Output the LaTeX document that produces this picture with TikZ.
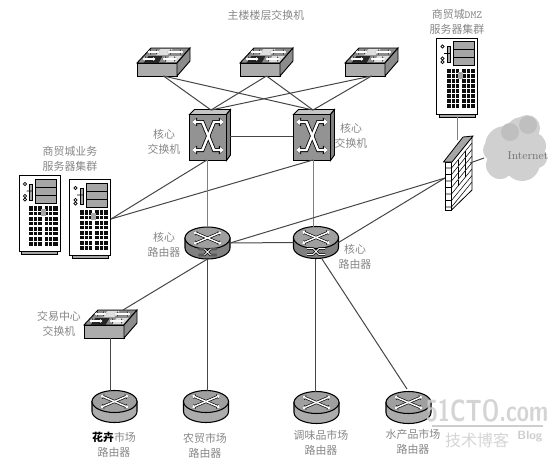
\documentclass[tikz,border=0pt]{standalone}
\usepackage{fontspec}
\newfontfamily\cjk{Noto Sans CJK SC}
\usetikzlibrary{arrows.meta}
\definecolor{linkgray}{RGB}{70,70,70}
\definecolor{labelgray}{RGB}{135,135,135}
\definecolor{markgray}{RGB}{205,205,205}
\definecolor{cloudgray}{RGB}{208,208,208}
\tikzset{link/.style={draw=linkgray,line width=.75pt},
 lbl/.style={font=\cjk\fontsize{8.2}{11}\selectfont,text=labelgray,align=center,inner sep=0pt},
 devbox/.style={inner sep=0pt,outer sep=0pt},
 swbox/.style={devbox,minimum width=39.75pt,minimum height=21pt},
 corebox/.style={devbox,minimum width=30.75pt,minimum height=38.25pt},
 rtbox/.style={devbox,minimum width=33.75pt,minimum height=24pt},
 srvbox/.style={devbox,minimum width=31pt,minimum height=59pt},
 arrowout/.style={black,line width=3pt,{Triangle[length=3.8pt,width=6.4pt]}-{Triangle[length=3.8pt,width=6.4pt]}},
 arrowin/.style={white,line width=1.8pt,{Triangle[length=3pt,width=4.4pt]}-{Triangle[length=3pt,width=4.4pt]}},
 thinout/.style={black,line width=2.1pt,{Triangle[length=2.4pt,width=3.8pt]}-{Triangle[length=2.4pt,width=3.8pt]}},
 thinin/.style={white,line width=1.1pt,{Triangle[length=1.9pt,width=2.8pt]}-{Triangle[length=1.9pt,width=2.8pt]}},
 pics/accesssw/.style={code={
  \fill[gray!90,draw=black,line width=.7pt] (-26.5,1)--(-12.5,-14)--(26.5,-14)--(13.5,1)--cycle;
  \fill[gray!30!black] (-20,1)--(-15,-6)--(-1,-6)--(-5,1)--cycle;
  \fill[gray!25] (-8,-7)--(-3,-13)--(9,-13)--(4,-7)--cycle;
  \fill[gray!25] (2,0)--(6,-6)--(18,-6)--(13,0)--cycle;
  \draw[thinout] (-16,-10)--(-4,-10); \draw[thinin] (-16,-10)--(-4,-10);
  \draw[thinout] (4,-10)--(20,-10); \draw[thinin] (4,-10)--(20,-10);
  \draw[thinout] (-21,-3)--(-8,-3); \draw[thinin] (-21,-3)--(-8,-3);
  \draw[thinout] (-1,-3)--(14,-3); \draw[thinin] (-1,-3)--(14,-3);
  \draw[fill=gray!65,line width=.7pt] (-26.5,1) rectangle (13.5,14);
  \draw[fill=gray!90,line width=.7pt] (13.5,1)--(26.5,-14)--(26.5,-1)--(13.5,14)--cycle;
 }},
 pics/coresw/.style={code={
  \draw[fill=gray!45,line width=.7pt] (-20.5,-20.5)--(-15.5,-25.5)--(20.5,-25.5)--(16.5,-20.5)--cycle;
  \draw[fill=gray!100,line width=.7pt] (16.5,-20.5)--(20.5,-25.5)--(20.5,20)--(16.5,25.5)--cycle;
  \draw[fill=gray!85,line width=.7pt] (-20.5,-20.5) rectangle (16.5,25.5);
  \draw[arrowout] (-18,-13)--(-7.5,-13)--(4,15)--(14,15);
  \draw[arrowout] (14,-13)--(4,-13)--(-7.5,15)--(-18,15);
  \draw[arrowin] (-18,-13)--(-7.5,-13)--(4,15)--(14,15);
  \draw[arrowin] (14,-13)--(4,-13)--(-7.5,15)--(-18,15);
 }},
 pics/router/.style={code={
  \draw[fill=#1,line width=.8pt] (-22.5,-5)--(-22.5,5) arc[start angle=180,end angle=0,x radius=22.5,y radius=11]--(22.5,-5)--cycle;
  \draw[fill=gray!75,line width=.8pt] (0,-5) ellipse [x radius=22.5,y radius=11];
  \draw[thinout] (-14,-11)--(14,1); \draw[thinout] (14,-11)--(-14,1);
  \draw[thinin] (-14,-11)--(14,1); \draw[thinin] (14,-11)--(-14,1);
 }},
 pics/corerouter/.style={code={
  \pic {router=gray!100};
  \draw[black,line width=1.7pt] (-9,6)--(-3,6)--(3,12)--(9,12) (9,6)--(3,6)--(-3,12)--(-9,12);
  \draw[white,line width=.7pt] (-9,6)--(-3,6)--(3,12)--(9,12) (9,6)--(3,6)--(-3,12)--(-9,12);
 }},
 pics/server/.style={code={
  \draw[fill=gray!70,line width=.5pt] (-18,36)--(-18,39.5)--(18,39.5)--(18,36);
  \draw[fill=white,line width=.6pt] (-20.5,-39.5) rectangle (20.5,36.5);
  \draw[fill=gray!70,line width=.6pt] (-4,-36) rectangle (17,-12);
  \draw[line width=.6pt] (-4,-28)--(17,-28) (-4,-20)--(17,-20);
  \draw[fill=gray!70,line width=.6pt] (-10,-31) rectangle (-7,-15);
  \draw[line width=.6pt] (-14.5,-31) circle [radius=1.6] (-14.5,-19) circle [radius=1.6] (-14.5,-15.5) circle [radius=1.6] (-13,-24)--(-7,-24);
  \fill[gray!10!black] (-10.5,-9) rectangle (18,30.5);
  \foreach \yy in {1,11,21} {\draw[white,line width=.8pt] (-10.5,\yy)--(18,\yy);}
  \foreach \yy in {-4,6,16,26} {\draw[white,line width=.25pt] (-10.5,\yy)--(18,\yy);}
  \foreach \xx in {-6,-2,9,13} {\draw[white,line width=.25pt] (\xx,-9)--(\xx,30.5);}
  \fill[white] (2,-9) rectangle (5,30.5);
  \fill[gray!70] (1,-6) rectangle (6,1);
 }}}
\begin{document}
\begin{tikzpicture}[x=.75pt,y=-.75pt]
\useasboundingbox (0,0) rectangle (557,465);
% devices
\node[swbox] (floora) at (163.5,62) {}; \pic at (floora) {accesssw};
\node[swbox] (floorb) at (266.5,62) {}; \pic at (floorb) {accesssw};
\node[swbox] (floorc) at (371.5,62) {}; \pic at (floorc) {accesssw};
\node[corebox] (corea) at (210,135) {}; \pic at (corea) {coresw};
\node[corebox] (coreb) at (314,135) {}; \pic at (coreb) {coresw};
\node[rtbox] (routera) at (207.5,243) {}; \pic at (routera) {corerouter};
\node[rtbox] (routerb) at (316,242.5) {}; \pic at (routerb) {corerouter};
\node[swbox] (tradesw) at (110.5,324) {}; \pic at (tradesw) {accesssw};
\node[rtbox] (flower) at (114.5,406.5) {}; \pic at (flower) {router=gray!65};
\node[rtbox] (farm) at (206,406.5) {}; \pic at (farm) {router=gray!65};
\node[rtbox] (spice) at (316.5,407.5) {}; \pic at (spice) {router=gray!65};
\node[rtbox] (fish) at (408.5,407.5) {}; \pic at (fish) {router=gray!65};
\node[srvbox] (srva) at (39.5,215) {}; \pic at (srva) {server};
\node[srvbox] (srvb) at (90,219) {}; \pic at (srvb) {server};
\node[srvbox] (srvdmz) at (457,77.5) {}; \pic at (srvdmz) {server};
% ports
\coordinate (coreatop) at (211,110);
\coordinate (corebtop) at (313,110);
\coordinate (coreabot) at (207,160);
\coordinate (corebbot) at (313,160);
\coordinate (coreaside) at (230,136);
\coordinate (corebside) at (293,136);
\coordinate (srvport) at (111,219);
\coordinate (dmzport) at (457,117);
\coordinate (routerbbot) at (315,259);
\coordinate (routerbdiag) at (322,259);
\coordinate (fishport) at (407,389);
\coordinate (tradeport) at (123,310);
\coordinate (fwleft) at (445,178);
\coordinate (fwtop) at (457,140);
\coordinate (fwright) at (470,163);
\coordinate (cloudport) at (484,158);
% firewall
\draw[fill=white,line width=.6pt] (445.5,162)--(451.5,162)--(451.5,210)--(445.5,210)--cycle;
\draw[fill=white,line width=.6pt] (451.5,162)--(472,137)--(472,190)--(451.5,210)--cycle;
\draw[fill=gray!70,line width=.6pt] (443.5,162)--(463,137)--(473,136)--(452,162)--cycle;
\foreach \k in {0,...,6} {\draw[line width=.4pt] (445.5,168+6.5*\k)--(451.5,168+6.5*\k)--(472,143+6.5*\k);}
\foreach \k in {0,...,3} {\draw[line width=.35pt] (458,160+6.5*\k)--(458,166+6.5*\k) (465,151+6.5*\k)--(465,157+6.5*\k);}
% cloud
\fill[cloudgray] (505,146) circle [radius=20] (522,134) circle [radius=17] (532,146) circle [radius=14] (527,128) circle [radius=13] (500,165) circle [radius=14] (522,163) circle [radius=18] (537,158) circle [radius=10] (494,150) circle [radius=11];
\fill[gray!50] (528,125) circle [radius=9] (510,132) circle [radius=9];
\node[font=\fontsize{8.5}{10}\selectfont,text=labelgray!85!black,inner sep=0pt] (inettext) at (528,156) {Internet};
% links
\draw[link] (floora.south)--(coreatop);
\draw[link] (floora.south)--(corebtop);
\draw[link] (floorb.south)--(coreatop);
\draw[link] (floorb.south)--(corebtop);
\draw[link] (floorc.south)--(coreatop);
\draw[link] (floorc.south)--(corebtop);
\draw[link] (coreaside)--(corebside);
\draw[link] (coreabot)--(srvport);
\draw[link] (corebbot)--(srvport);
\draw[link,draw=gray] (coreabot)--(routera.north -| coreabot);
\draw[link,draw=gray] (corebbot)--(routerb.north -| corebbot);
\draw[link] (routera.east)--(routerb.west);
\draw[link] (routera.east)--(fwleft);
\draw[link] (routerb.east)--(fwleft);
\draw[link,draw=gray] (dmzport)--(fwtop);
\draw[link] (fwright)--(cloudport);
\draw[link] (routera.south)--(tradeport);
\draw[link] (routera.south)--(routera.south |- farm.north);
\draw[link] (tradesw.south)--(tradesw.south |- flower.north);
\draw[link] (routerbbot)--(routerbbot |- spice.north);
\draw[link] (routerbdiag)--(fishport);
% labels
\node[lbl] (lblfloor) at (266,15) {主楼楼层交换机};
\node[lbl] (lblcorea) at (164,142) {核心\\交换机};
\node[lbl] (lblcoreb) at (351,135.5) {核心\\交换机};
\node[lbl] (lblbiz) at (70,159) {商贸城业务\\服务器集群};
\node[lbl] (lbldmz) at (457,22) {商贸城{\ttfamily DMZ}\\服务器集群};
\node[lbl] (lblrta) at (164,244.5) {核心\\路由器};
\node[lbl] (lblrtb) at (355,257) {核心\\路由器};
\node[lbl] (lbltrade) at (59,324) {交易中心\\交换机};
\node[lbl] (lblflower) at (114,445) {{\bfseries\color{black}花卉}市场\\路由器};
\node[lbl] (lblfarm) at (205,446) {农贸市场\\路由器};
\node[lbl] (lblspice) at (321,442.5) {调味品市场\\路由器};
\node[lbl] (lblfish) at (413,442) {水产品市场\\路由器};
% site mark
\node[font=\sffamily\bfseries\fontsize{23}{24}\selectfont,text=markgray,opacity=.85,inner sep=0pt] (markname) at (487,411) {\scalebox{.72}[1]{51CTO.com}};
\coordinate (markleft) at (432,426);
\coordinate (markright) at (543,426);
\draw[markgray,line width=.8pt] (markleft)--(markright);
\node[font=\cjk\fontsize{12}{14}\selectfont,text=markgray,opacity=.85,inner sep=0pt] (markcn) at (477,440) {技术博客};
\node[font=\sffamily\bfseries\fontsize{9}{10}\selectfont,text=markgray,inner sep=0pt] (markblog) at (530,437) {Blog};
\end{tikzpicture}
\end{document}
